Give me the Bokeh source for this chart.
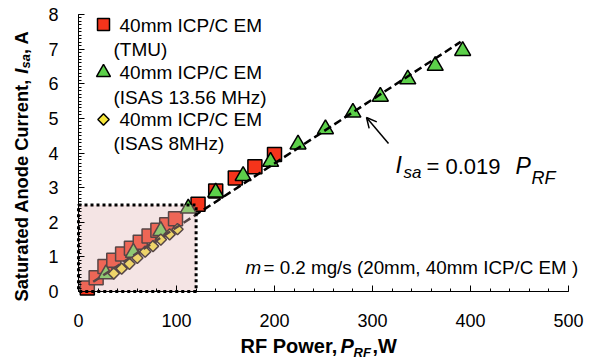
import math
from bokeh.plotting import figure
from bokeh.models import Label, Arrow, OpenHead, ColumnDataSource, FixedTicker, Range1d
from bokeh.embed import file_html
from bokeh.resources import INLINE

# ---------------- data ----------------
tmu_P = [9, 18, 27, 36, 45, 54, 63, 72, 81, 90, 99, 122, 140, 160, 180, 200]
tmu_I = [0.10, 0.40, 0.72, 0.90, 1.08, 1.25, 1.42, 1.60, 1.77, 1.93, 2.10, 2.52, 2.90, 3.28, 3.60, 3.96]

isas13_P = [28, 56, 84, 112, 140, 168, 196, 224, 252, 280, 308, 336, 364, 392]
isas13_I = [0.50, 1.12, 1.75, 2.40, 2.86, 3.34, 3.75, 4.25, 4.69, 5.17, 5.63, 6.13, 6.52, 6.95]

isas8_P = [36, 44, 52, 60, 68, 76, 84, 93, 101]
isas8_I = [0.52, 0.66, 0.80, 0.97, 1.15, 1.31, 1.50, 1.65, 1.80]

fit_P = [15, 390]
fit_I = [0.28, 7.21]

box_P = [0, 120]
box_I = [0, 2.5]

x_ticks = [0, 100, 200, 300, 400, 500]
y_ticks = [0, 1, 2, 3, 4, 5, 6, 7, 8]

series_line1 = ["40mm ICP/C EM", "40mm ICP/C EM", "40mm ICP/C EM"]
series_line2 = ["(TMU)", "(ISAS 13.56 MHz)", "(ISAS 8MHz)"]

FONT = "Liberation Sans"

# ---------------- layout: frame spans the whole canvas ----------------
W, H = 593, 359
X0, XS = 78.0, 0.98        # page px of P=0, px per W
Y0, YS = 291.0, 34.625     # page px of I=0, px per A

def dx(px):
    return (px - X0) / XS

def dy(py):
    return (Y0 - py) / YS

p = figure(width=W, height=H, output_backend="svg", toolbar_location=None,
           x_range=Range1d(dx(0), dx(W)), y_range=Range1d(dy(H), dy(0)),
           min_border_left=0, min_border_right=0, min_border_top=0, min_border_bottom=0)
p.outline_line_color = None
p.xgrid.visible = False
p.ygrid.visible = False

p.xaxis.fixed_location = 0
p.yaxis.fixed_location = 0
p.xaxis.bounds = (x_ticks[0], x_ticks[-1])
p.yaxis.bounds = (y_ticks[0], y_ticks[-1])
p.xaxis.ticker = FixedTicker(ticks=x_ticks, minor_ticks=list(range(0, 501, 20)))
p.yaxis.ticker = FixedTicker(ticks=y_ticks, minor_ticks=[i / 10 for i in range(0, 81)])
for ax in (p.xaxis[0], p.yaxis[0]):
    ax.axis_line_color = "#000000"
    ax.axis_line_width = 1
    ax.major_tick_line_color = "#000000"
    ax.minor_tick_line_color = "#000000"
    ax.major_tick_in = 6
    ax.major_tick_out = 0
    ax.minor_tick_in = 3
    ax.minor_tick_out = 0
    ax.major_label_text_font = FONT
    ax.major_label_text_font_size = "18px"
    ax.major_label_text_color = "#000000"
p.yaxis[0].major_label_standoff = 20
p.xaxis[0].major_label_standoff = 22

# ---------------- data marks ----------------
src_tmu = ColumnDataSource(dict(P=tmu_P, I=tmu_I))
src_13 = ColumnDataSource(dict(P=isas13_P, I=isas13_I))
src_8 = ColumnDataSource(dict(P=isas8_P, I=isas8_I))

SQ = dict(marker="square", fill_color="#F5341B", line_color="#000000", line_width=1.5)
TR = dict(marker="triangle", fill_color="#5CD04A", line_color="#000000", line_width=1.5)
DI = dict(marker="square", angle=math.pi / 4, fill_color="#F6E63A",
          line_color="#000000", line_width=1.5)

p.scatter("P", "I", source=src_tmu, size=14, **SQ)
p.scatter("P", "I", source=src_13, size=16, **TR)
p.scatter("P", "I", source=src_8, size=8, **DI)

p.line(fit_P, fit_I, line_color="#000000", line_width=2.5, line_dash="8 4")

# highlighted low-power region (translucent overlay + dotted frame)
p.quad(left=[box_P[0]], right=[box_P[1]], bottom=[box_I[0]], top=[box_I[1]],
       fill_color="#E1B9B9", fill_alpha=0.38, line_color=None)
p.quad(left=[box_P[0]], right=[box_P[1]], bottom=[box_I[0]], top=[box_I[1]],
       fill_color=None, line_color="#000000", line_width=3, line_dash="3 3")

# ---------------- text helper (y = visual middle of the text) ----------------
def lab(text, px, py, size, style="normal", angle=0.0):
    p.add_layout(Label(x=dx(px), y=dy(py), text=text, text_font=FONT,
                       text_font_size=size, text_font_style=style, angle=angle,
                       text_align="left", text_baseline="middle",
                       text_color="#000000"))

# ---------------- legend (keys + two-line labels) ----------------
key_styles = [dict(size=12, **SQ), dict(size=14, **TR), dict(size=8, **DI)]
key_px = 103
key_py = [24, 72, 119]
row1_py = [25, 71.7, 119.3]
row2_py = [49, 96.7, 143.3]
for k in range(3):
    p.scatter(x=[dx(key_px)], y=[dy(key_py[k])], **key_styles[k])
    lab(series_line1[k], 119, row1_py[k], "19px")
    lab(series_line2[k], 113, row2_py[k], "19px")

# ---------------- axis titles ----------------
A90 = math.pi / 2
lab("Saturated Anode Current, ", 21, 301, "18.3px", "bold", A90)
lab("I", 21, 73.2, "18.3px", "bold italic", A90)
lab("sa", 25, 68.1, "13px", "bold italic", A90)
lab(", A", 21, 53.6, "18.3px", "bold", A90)

lab("RF Power,", 240, 345.5, "20px", "bold")
lab("P", 340, 345.5, "20px", "bold italic")
lab("RF", 353, 352, "13px", "bold italic")
lab(",W", 372, 345.5, "20px", "bold")

# ---------------- fit equation + arrow ----------------
lab("I", 395, 164.5, "23px", "italic")
lab("sa", 403, 172, "17px", "italic")
lab("= 0.019", 426, 165.5, "22px")
lab("P", 515, 165, "23px", "italic")
lab("RF", 531, 177, "18px", "italic")

p.add_layout(Arrow(x_start=dx(388), y_start=dy(143), x_end=dx(366), y_end=dy(117),
                   line_color="#000000", line_width=1.5,
                   end=OpenHead(size=10, line_color="#000000", line_width=1.5)))

# ---------------- condition note ----------------
lab("m", 245, 267, "18.8px", "italic")
lab("= 0.2 mg/s (20mm, 40mm ICP/C EM )", 263, 267, "18.8px")

open("out.html", "w").write(file_html(p, INLINE))
